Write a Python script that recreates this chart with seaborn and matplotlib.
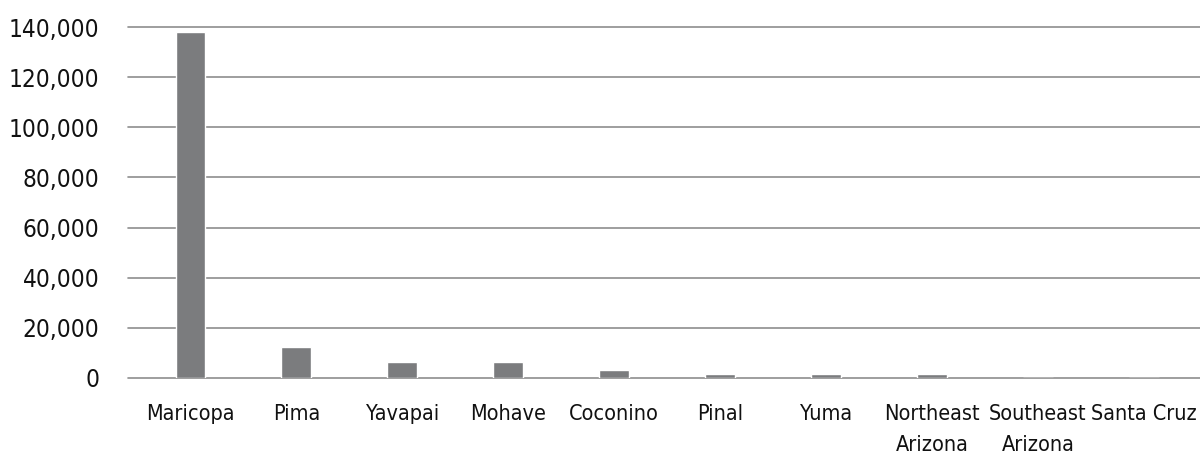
import matplotlib
matplotlib.use('Agg')
import matplotlib.pyplot as plt
import matplotlib.ticker as mticker
import pandas as pd
import seaborn as sns

# Data
counties = ['Maricopa', 'Pima', 'Yavapai', 'Mohave', 'Coconino', 'Pinal',
            'Yuma', 'Northeast\nArizona', 'Southeast\nArizona', 'Santa Cruz']
values = [138000, 12200, 6400, 6300, 3200, 1700, 1600, 1600, 0, 0]
y_ticks = [0, 20000, 40000, 60000, 80000, 100000, 120000, 140000]

df = pd.DataFrame({'County': counties, 'Value': values})

sns.set_theme(style='white')
plt.rcParams['font.family'] = ['DejaVu Sans']
plt.rcParams['font.stretch'] = 'condensed'

fig = plt.figure(figsize=(12, 4.58), dpi=100)
ax = fig.add_axes([0.107, 0.1747, 0.893, 0.7663])

sns.barplot(data=df, x='County', y='Value', color='#7b7c7e', width=0.28,
            saturation=1, ax=ax, zorder=3)

ax.set_ylim(0, 140000)
ax.set_xlim(-0.585, 9.53)
ax.set_yticks(y_ticks)
ax.yaxis.set_major_formatter(mticker.FuncFormatter(lambda v, p: f'{int(v):,}'))
ax.grid(axis='y', color='#8e8e8e', linewidth=1.2, zorder=0)
ax.grid(axis='x', visible=False)
for gl in ax.get_ygridlines():
    gl.set_clip_on(False)
for s in ax.spines.values():
    s.set_visible(False)

ax.tick_params(axis='both', length=0, colors='#111111')
ax.tick_params(axis='y', labelsize=17.5, pad=21)
ax.tick_params(axis='x', labelsize=15.5, pad=19)
for lbl in ax.get_xticklabels():
    lbl.set_linespacing(1.65)
ax.set_xlabel('')
ax.set_ylabel('')

fig.savefig('out.png', dpi=100)
